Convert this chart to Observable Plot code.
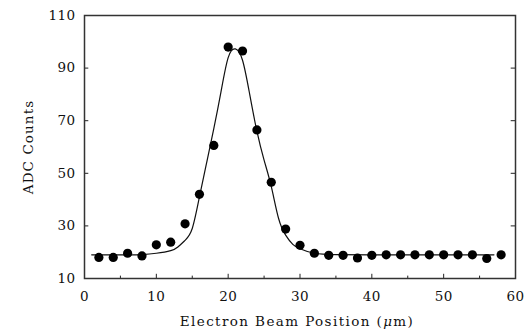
<!DOCTYPE html>
<html>
<head>
<meta charset="utf-8">
<script src="https://cdn.jsdelivr.net/npm/d3@7"></script>
<script src="https://cdn.jsdelivr.net/npm/@observablehq/plot@0.6"></script>
<style>
  html, body { margin: 0; padding: 0; background: #fff; }
</style>
</head>
<body>
<div id="chart"></div>
<script>
// Measured points
const posX = [2, 4, 6, 8, 10, 12, 14, 16, 18, 20, 22, 24, 26, 28, 30, 32, 34, 36, 38, 40, 42, 44, 46, 48, 50, 52, 54, 56, 58];
const counts = [18, 18, 19.6, 18.6, 22.8, 23.8, 30.8, 42, 60.6, 98, 96.5, 66.5, 46.6, 28.8, 22.6, 19.6, 18.8, 18.8, 17.8, 18.8, 19, 19, 19, 19, 19, 19, 19, 17.6, 19];

// Fitted curve
const fitX = [1, 6, 8, 10, 12, 13, 14, 15, 16, 17, 18, 19, 20, 21, 22, 23, 24, 25, 26, 27, 28, 29, 30, 32, 35, 40, 50, 57];
const fitY = [19.0, 19.0, 19.1, 19.6, 20.6, 22, 24.5, 29, 41, 54, 67, 81, 94, 97.3, 93, 80, 66, 55, 45, 33, 26.5, 23, 21.3, 19.6, 19.1, 19.0, 19.0, 19.0];

const xTicks = [0, 10, 20, 30, 40, 50, 60];
const xMinor = [5, 15, 25, 35, 45, 55];
const yTicks = [10, 30, 50, 70, 90, 110];
const xTitle = "Electron Beam Position (μm)";
const yTitle = "ADC Counts";

const points = posX.map((x, i) => ({x, y: counts[i]}));
const fit = fitX.map((x, i) => ({x, y: fitY[i]}));

const chart = Plot.plot({
  width: 529,
  height: 333,
  marginLeft: 84,
  marginRight: 14,
  marginTop: 15,
  marginBottom: 55,
  style: {fontFamily: "DejaVu Serif", fontSize: "13.5px", color: "#111", background: "#fff", letterSpacing: "0.4px"},
  x: {domain: [0, 60]},
  y: {domain: [10, 110]},
  marks: [
    Plot.axisX({ticks: xTicks, tickSize: 0, tickPadding: 13, tickFormat: d3.format("d"), label: null}),
    Plot.axisY({ticks: yTicks, tickSize: 0, tickPadding: 9, tickFormat: d3.format("d"), label: null}),
    Plot.text([xTitle], {frameAnchor: "bottom", textAnchor: "middle", dx: -3, dy: 47, text: d => d, fontSize: 13.5, fill: "#111"}),
    Plot.text([yTitle], {frameAnchor: "left", textAnchor: "middle", dx: -56, rotate: -90, text: d => d, fontSize: 13.5, fill: "#111"}),
    Plot.ruleX(xTicks, {x: d => d, y1: 10, y2: 11.6, stroke: "#222", strokeWidth: 1}),
    Plot.ruleX(xMinor, {x: d => d, y1: 10, y2: 10.9, stroke: "#222", strokeWidth: 1}),
    Plot.ruleY(yTicks, {y: d => d, x1: 0, x2: 0.6, stroke: "#222", strokeWidth: 1}),
    Plot.ruleY(yTicks, {y: d => d, x1: 59.4, x2: 60, stroke: "#222", strokeWidth: 1}),
    Plot.frame({stroke: "#333", strokeWidth: 1.5}),
    Plot.line(fit, {x: "x", y: "y", curve: "natural", stroke: "#111", strokeWidth: 1.2}),
    Plot.dot(points, {x: "x", y: "y", r: 4.6, fill: "#000", stroke: "none"})
  ]
});
document.getElementById("chart").appendChild(chart);

// letter spacing on titles and italic mu in x title
chart.querySelectorAll("text").forEach(t => {
  if (t.textContent === xTitle) {
    t.style.letterSpacing = "1.4px";
    t.textContent = "";
    const ns = "http://www.w3.org/2000/svg";
    const a = document.createElementNS(ns, "tspan"); a.textContent = "Electron Beam Position (";
    const b = document.createElementNS(ns, "tspan"); b.textContent = "μ"; b.setAttribute("font-style", "italic");
    const c = document.createElementNS(ns, "tspan"); c.textContent = "m)";
    t.append(a, b, c);
  } else if (t.textContent === yTitle) {
    t.style.letterSpacing = "1.1px";
  }
});
</script>
</body>
</html>
